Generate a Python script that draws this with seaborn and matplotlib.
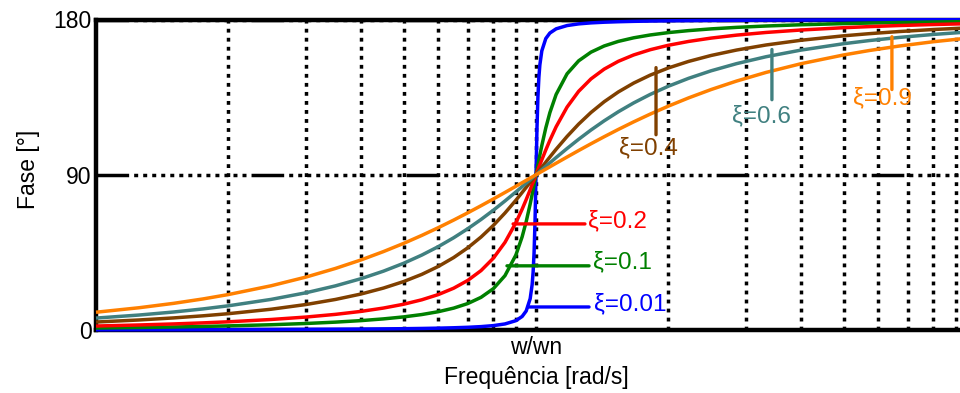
import numpy as np
import pandas as pd
import matplotlib
matplotlib.use("Agg")
import matplotlib.pyplot as plt
from matplotlib.ticker import LogLocator, FixedLocator, NullFormatter
import seaborn as sns

# ---- data ----
freq = [0.1, 0.125, 0.15, 0.175, 0.2, 0.25, 0.3, 0.35, 0.4, 0.45, 0.5, 0.55, 0.6, 0.65, 0.7,
        0.75, 0.8, 0.85, 0.9, 0.93, 0.95, 0.97, 0.98, 0.985, 0.99, 0.995, 1.0,
        1.005, 1.0101, 1.0152, 1.0204, 1.0309, 1.0526, 1.0753, 1.1111, 1.1765, 1.25, 1.3333,
        1.4286, 1.5385, 1.6667, 1.8182, 2.0, 2.2222, 2.5, 2.8571, 3.3333, 4.0, 5.0, 5.7143,
        6.6667, 8.0, 10.0]

phase_001 = [0.12, 0.15, 0.18, 0.21, 0.24, 0.31, 0.38, 0.46, 0.55, 0.65, 0.76, 0.90, 1.07, 1.29, 1.57,
             1.96, 2.54, 3.51, 5.41, 7.84, 11.03, 18.17, 26.30, 33.49, 44.86, 63.38, 90.0,
             116.62, 135.14, 146.51, 153.70, 161.83, 168.97, 172.16, 174.59, 176.49, 177.46, 178.04,
             178.43, 178.71, 178.93, 179.10, 179.24, 179.35, 179.45, 179.54, 179.62, 179.69, 179.76,
             179.79, 179.82, 179.85, 179.88]
phase_01 = [1.16, 1.45, 1.76, 2.07, 2.39, 3.05, 3.77, 4.56, 5.44, 6.44, 7.59, 8.96, 10.62, 12.69, 15.35,
            18.93, 23.96, 31.49, 43.45, 54.00, 62.84, 73.06, 78.58, 81.41, 84.26, 87.13, 90.0,
            92.87, 95.74, 98.59, 101.42, 106.94, 117.16, 126.00, 136.55, 148.51, 156.04, 161.07,
            164.65, 167.31, 169.38, 171.04, 172.41, 173.56, 174.56, 175.44, 176.23, 176.95, 177.61,
            177.93, 178.24, 178.55, 178.84]
phase_02 = [2.31, 2.91, 3.51, 4.13, 4.76, 6.09, 7.51, 9.06, 10.78, 12.72, 14.93, 17.51, 20.56, 24.24, 28.77,
            34.44, 41.63, 50.78, 62.18, 70.04, 75.61, 81.34, 84.23, 85.68, 87.12, 88.56, 90.0,
            91.44, 92.88, 94.32, 95.77, 98.66, 104.39, 109.96, 117.82, 129.22, 138.37, 145.56,
            151.23, 155.76, 159.44, 162.49, 165.07, 167.28, 169.22, 170.94, 172.49, 173.91, 175.24,
            175.87, 176.49, 177.09, 177.69]
phase_04 = [4.62, 5.80, 7.00, 8.22, 9.46, 12.04, 14.77, 17.70, 20.85, 24.30, 28.07, 32.24, 36.87, 42.00, 47.68,
            53.90, 60.64, 67.80, 75.21, 79.71, 82.69, 85.64, 87.11, 87.84, 88.56, 89.28, 90.0,
            90.72, 91.44, 92.16, 92.89, 94.36, 97.31, 100.29, 104.79, 112.20, 119.36, 126.10,
            132.32, 138.00, 143.13, 147.76, 151.93, 155.70, 159.15, 162.30, 165.23, 167.96, 170.54,
            171.78, 173.00, 174.20, 175.38]
phase_06 = [6.91, 8.66, 10.43, 12.22, 14.04, 17.74, 21.58, 25.58, 29.74, 34.10, 38.66, 43.42, 48.37, 53.48, 58.74,
            64.07, 69.44, 74.78, 80.02, 83.10, 85.11, 87.09, 88.07, 88.56, 89.04, 89.52, 90.0,
            90.48, 90.96, 91.44, 91.93, 92.91, 94.89, 96.90, 99.98, 105.22, 110.56, 115.93,
            121.26, 126.52, 131.63, 136.58, 141.34, 145.90, 150.26, 154.42, 158.42, 162.26, 165.96,
            167.78, 169.57, 171.34, 173.09]
phase_09 = [10.30, 12.88, 15.44, 18.00, 20.56, 25.64, 30.68, 35.68, 40.60, 45.45, 50.19, 54.83, 59.35, 63.73, 67.96,
            72.04, 75.96, 79.72, 83.31, 85.39, 86.74, 88.06, 88.71, 89.04, 89.36, 89.68, 90.0,
            90.32, 90.64, 90.96, 91.29, 91.94, 93.26, 94.61, 96.69, 100.28, 104.04, 107.96,
            112.04, 116.27, 120.65, 125.17, 129.81, 134.55, 139.40, 144.32, 149.32, 154.36, 159.44,
            162.00, 164.56, 167.12, 169.70]

zetas = ["0.01", "0.1", "0.2", "0.4", "0.6", "0.9"]
series = [phase_001, phase_01, phase_02, phase_04, phase_06, phase_09]
colors = ["#0000FF", "#008000", "#FF0000", "#804000", "#408080", "#FF8000"]

y_ticks = [0, 90, 180]
y_ticklabels = ["0", "90", "180"]
x_ticks = [1.0]
x_ticklabels = ["w/wn"]

df = pd.concat([pd.DataFrame({"freq": freq, "phase": s, "zeta": z}) for z, s in zip(zetas, series)],
               ignore_index=True)

# ---- style ----
sns.set_theme(style="white")
plt.rcParams["font.family"] = ["Liberation Sans", "DejaVu Sans"]
FS = 16.5

fig = plt.figure(figsize=(9.6, 3.93), dpi=100)
ax = fig.add_axes([96 / 960, 63 / 393, 880 / 960, 310.5 / 393])
ax.set_xscale("log")

sns.lineplot(data=df, x="freq", y="phase", hue="zeta", hue_order=zetas,
             palette=dict(zip(zetas, colors)), linewidth=2.5, legend=False,
             estimator=None, sort=False, ax=ax)
for ln in ax.lines:
    ln.set_zorder(4)
    ln.set_clip_on(False)
    ln.set_solid_capstyle("butt")

ax.set_xlim(0.1, 10)
ax.set_ylim(0, 180)

ax.xaxis.set_major_locator(FixedLocator(x_ticks))
ax.set_xticklabels(x_ticklabels)
ax.xaxis.set_minor_locator(LogLocator(base=10, subs=np.arange(2, 10)))
ax.xaxis.set_minor_formatter(NullFormatter())
ax.set_yticks(y_ticks)
ax.set_yticklabels(y_ticklabels)
ax.tick_params(axis="both", which="both", length=0, labelsize=FS, colors="black")
ax.tick_params(axis="y", pad=3)
ax.tick_params(axis="x", pad=4)

dot = (0, (1.1, 1.5))
ax.xaxis.grid(True, which="both", color="black", linestyle=dot, linewidth=2.5)
dashdot = (0, (9.4, 1.45) + (1.15, 1.45) * 13)
ax.yaxis.grid(True, which="major", color="black", linestyle=dashdot, linewidth=2.5)
ax.set_axisbelow(True)

for s in ["left", "bottom", "top"]:
    ax.spines[s].set_visible(True)
    ax.spines[s].set_color("black")
    ax.spines[s].set_linewidth(3.2)
ax.spines["right"].set_visible(False)

ax.set_xlabel("Frequência [rad/s]", fontsize=FS, color="black")
ax.set_ylabel("Fase [°]", fontsize=FS, color="black")
ax.xaxis.set_label_coords(0.5, -0.115)
ax.yaxis.set_label_coords(-0.064, 0.516)

# ---- annotations ----
lab_fs = 17.5
# horizontal leaders (low damping)
hann = [("0.2", 0.887, 1.292, 61.5, 1.313, 59.8, colors[2]),
        ("0.1", 0.859, 1.320, 37.2, 1.348, 36.0, colors[1]),
        ("0.01", 0.959, 1.320, 13.35, 1.355, 11.6, colors[0])]
for z, xa, xb, yl, xt, yt, c in hann:
    ax.annotate("", xy=(xa, yl), xytext=(xb, yl),
                arrowprops=dict(arrowstyle="-", color=c, lw=2.4, shrinkA=0, shrinkB=0),
                zorder=5)
    ax.text(xt, yt, f"ξ={z}", color=c, fontsize=lab_fs, ha="left", va="baseline", zorder=5)

# vertical leaders (higher damping)
vann = [("0.4", 1.874, 152.1, 113.2, 1.797, 111.5, colors[3]),
        ("0.6", 3.437, 162.6, 133.5, 3.26, 130.0, colors[4]),
        ("0.9", 6.44, 170.0, 139.4, 6.12, 140.5, colors[5])]
for z, xl, ya, yb, xt, yt, c in vann:
    ax.annotate("", xy=(xl, ya), xytext=(xl, yb),
                arrowprops=dict(arrowstyle="-", color=c, lw=2.4, shrinkA=0, shrinkB=0),
                zorder=5)
    ax.text(xt, yt, f"ξ={z}", color=c, fontsize=lab_fs, ha="center", va="top", zorder=5)

fig.savefig("out.png", dpi=100)
